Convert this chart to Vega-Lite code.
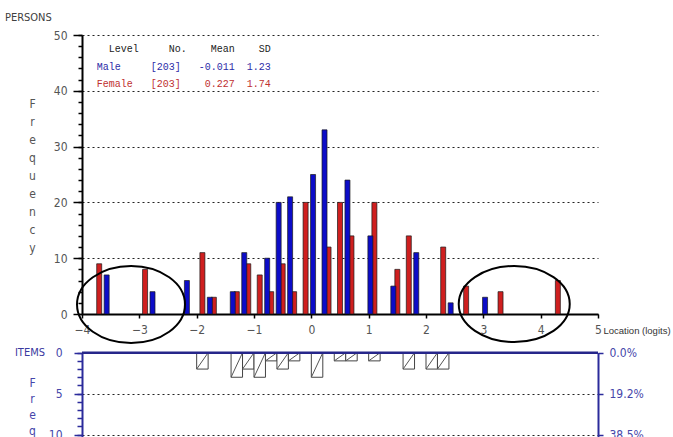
{
  "$schema": "https://vega.github.io/schema/vega-lite/v6.json",
  "width": 516,
  "height": 402,
  "autosize": "none",
  "padding": {"left": 82, "top": 35, "right": 75, "bottom": 0},
  "background": "white",
  "config": {
    "view": {"stroke": null},
    "font": "DejaVu Sans Condensed, Liberation Sans, sans-serif"
  },
  "datasets": {
    "persons": [
      {"gender": "Female", "loc": -3.7, "freq": 9},
      {"gender": "Female", "loc": -2.9, "freq": 8},
      {"gender": "Female", "loc": -1.9, "freq": 11},
      {"gender": "Female", "loc": -1.7, "freq": 3},
      {"gender": "Female", "loc": -1.3, "freq": 4},
      {"gender": "Female", "loc": -1.1, "freq": 9},
      {"gender": "Female", "loc": -0.9, "freq": 7},
      {"gender": "Female", "loc": -0.7, "freq": 4},
      {"gender": "Female", "loc": -0.5, "freq": 9},
      {"gender": "Female", "loc": -0.3, "freq": 4},
      {"gender": "Female", "loc": -0.1, "freq": 20},
      {"gender": "Female", "loc": 0.3, "freq": 12},
      {"gender": "Female", "loc": 0.5, "freq": 20},
      {"gender": "Female", "loc": 0.7, "freq": 14},
      {"gender": "Female", "loc": 1.1, "freq": 20},
      {"gender": "Female", "loc": 1.5, "freq": 8},
      {"gender": "Female", "loc": 1.7, "freq": 14},
      {"gender": "Female", "loc": 2.3, "freq": 12},
      {"gender": "Female", "loc": 2.7, "freq": 5},
      {"gender": "Female", "loc": 3.3, "freq": 4},
      {"gender": "Female", "loc": 4.3, "freq": 6},
      {"gender": "Male", "loc": -3.57, "freq": 7},
      {"gender": "Male", "loc": -2.77, "freq": 4},
      {"gender": "Male", "loc": -2.17, "freq": 6},
      {"gender": "Male", "loc": -1.77, "freq": 3},
      {"gender": "Male", "loc": -1.37, "freq": 4},
      {"gender": "Male", "loc": -1.17, "freq": 11},
      {"gender": "Male", "loc": -0.77, "freq": 10},
      {"gender": "Male", "loc": -0.57, "freq": 20},
      {"gender": "Male", "loc": -0.37, "freq": 21},
      {"gender": "Male", "loc": 0.03, "freq": 25},
      {"gender": "Male", "loc": 0.23, "freq": 33},
      {"gender": "Male", "loc": 0.63, "freq": 24},
      {"gender": "Male", "loc": 1.03, "freq": 14},
      {"gender": "Male", "loc": 1.43, "freq": 5},
      {"gender": "Male", "loc": 1.83, "freq": 11},
      {"gender": "Male", "loc": 2.43, "freq": 2},
      {"gender": "Male", "loc": 3.03, "freq": 3}
    ],
    "items": [
      {"lo": -2.0, "hi": -1.8, "n": 2},
      {"lo": -1.4, "hi": -1.2, "n": 3},
      {"lo": -1.2, "hi": -1.0, "n": 2},
      {"lo": -1.0, "hi": -0.8, "n": 3},
      {"lo": -0.8, "hi": -0.6, "n": 1},
      {"lo": -0.6, "hi": -0.4, "n": 2},
      {"lo": -0.4, "hi": -0.2, "n": 1},
      {"lo": 0.0, "hi": 0.2, "n": 3},
      {"lo": 0.4, "hi": 0.6, "n": 1},
      {"lo": 0.6, "hi": 0.8, "n": 1},
      {"lo": 1.0, "hi": 1.2, "n": 1},
      {"lo": 1.6, "hi": 1.8, "n": 2},
      {"lo": 2.0, "hi": 2.2, "n": 2},
      {"lo": 2.2, "hi": 2.4, "n": 2}
    ]
  },
  "layer": [
    {
      "layer": [
        {
          "data": {"name": "persons"},
          "mark": {"type": "bar", "size": 5, "stroke": "#1a1a1a", "strokeWidth": 0.7},
          "encoding": {
            "x": {
              "field": "loc", "type": "quantitative",
              "scale": {"domain": [-4, 5], "nice": false, "zero": false, "padding": 0},
              "axis": {
                "orient": "bottom", "offset": -123,
                "values": [-4, -3, -2, -1, 0, 1, 2, 3, 4, 5],
                "format": "d", "labelFlush": false, "labelOverlap": false,
                "grid": false,
                "domainColor": "#000", "domainWidth": 2,
                "tickColor": "#000", "tickSize": 4, "tickWidth": 1.5,
                "labelColor": "#555", "labelFontSize": 12, "labelPadding": 6,
                "title": "Location (logits)",
                "titleX": 521, "titleY": 16, "titleAlign": "left", "titleBaseline": "middle",
                "titleFont": "Liberation Sans, sans-serif",
                "titleFontWeight": "normal", "titleFontSize": 9.5, "titleColor": "#333"
              }
            },
            "y": {
              "field": "freq", "type": "quantitative",
              "scale": {"domain": [0, 50], "range": [279, 0], "nice": false, "zero": false},
              "axis": {
                "orient": "left",
                "values": [0, 10, 20, 30, 40, 50],
                "labelOverlap": false, "labelFlush": false,
                "tickSize": 9, "tickColor": "#000", "tickWidth": 1.5,
                "domainColor": "#000", "domainWidth": 2,
                "labelColor": "#555", "labelFontSize": 12, "labelPadding": 6,
                "grid": true, "gridDash": [2, 3], "gridColor": "#222", "gridWidth": 1.2,
                "title": ["F", "r", "e", "q", "u", "e", "n", "c", "y"],
                "titleAngle": 0, "titleX": -50, "titleY": 63, "titleAlign": "center", "titleBaseline": "top",
                "titleLineHeight": 18, "titleFontWeight": "normal", "titleFontSize": 12, "titleColor": "#555"
              }
            },
            "color": {
              "field": "gender", "type": "nominal",
              "scale": {"domain": ["Male", "Female"], "range": ["#0c0cc8", "#cf1f1f"]},
              "legend": null
            }
          }
        },
        {
          "data": {"values": [{"line": "Level\u00a0\u00a0\u00a0\u00a0\u00a0No.\u00a0\u00a0\u00a0\u00a0Mean\u00a0\u00a0\u00a0\u00a0SD"}]},
          "mark": {"type": "text", "font": "Liberation Mono, Courier New, monospace", "fontSize": 10, "align": "left", "baseline": "middle", "color": "#222"},
          "encoding": {"x": {"datum": -3.534, "type": "quantitative"}, "y": {"datum": 47.5, "type": "quantitative"}, "text": {"field": "line", "type": "nominal"}}
        },
        {
          "data": {"values": [{"line": "Male\u00a0\u00a0\u00a0\u00a0\u00a0[203]\u00a0\u00a0\u00a0-0.011\u00a0\u00a01.23"}]},
          "mark": {"type": "text", "font": "Liberation Mono, Courier New, monospace", "fontSize": 10, "align": "left", "baseline": "middle", "color": "#2d2da8"},
          "encoding": {"x": {"datum": -3.743, "type": "quantitative"}, "y": {"datum": 44.2, "type": "quantitative"}, "text": {"field": "line", "type": "nominal"}}
        },
        {
          "data": {"values": [{"line": "Female\u00a0\u00a0\u00a0[203]\u00a0\u00a0\u00a0\u00a00.227\u00a0\u00a01.74"}]},
          "mark": {"type": "text", "font": "Liberation Mono, Courier New, monospace", "fontSize": 10, "align": "left", "baseline": "middle", "color": "#c03030"},
          "encoding": {"x": {"datum": -3.743, "type": "quantitative"}, "y": {"datum": 41.3, "type": "quantitative"}, "text": {"field": "line", "type": "nominal"}}
        },
        {
          "data": {"values": [{"label": "PERSONS"}]},
          "mark": {"type": "text", "fontSize": 11, "align": "left", "baseline": "middle", "color": "#404040"},
          "encoding": {"x": {"datum": -5.344, "type": "quantitative"}, "y": {"datum": 53.05, "type": "quantitative"}, "text": {"field": "label", "type": "nominal"}}
        },
        {
          "data": {"values": [{"k": 1}]},
          "mark": {"type": "point", "shape": "M-1,0A1,0.713,0,1,0,1,0A1,0.713,0,1,0,-1,0Z", "size": 11664, "filled": false, "stroke": "#000", "strokeWidth": 2, "opacity": 1, "clip": false},
          "encoding": {"x": {"datum": -3.145, "type": "quantitative"}, "y": {"datum": 1.7, "type": "quantitative"}}
        },
        {
          "data": {"values": [{"k": 1}]},
          "mark": {"type": "point", "shape": "M-1,0A1,0.685,0,1,0,1,0A1,0.685,0,1,0,-1,0Z", "size": 12321, "filled": false, "stroke": "#000", "strokeWidth": 2, "opacity": 1, "clip": false},
          "encoding": {"x": {"datum": 3.539, "type": "quantitative"}, "y": {"datum": 1.79, "type": "quantitative"}}
        }
      ]
    },
    {
      "data": {"values": [{"k": 1}]},
      "mark": {"type": "rule", "strokeOpacity": 0},
      "encoding": {
        "y": {
          "datum": 0, "type": "quantitative",
          "scale": {"domain": [0, 50], "range": [279, 0], "nice": false, "zero": false},
          "axis": {
            "orient": "left",
            "values": [0, 2, 4, 6, 8, 10, 12, 14, 16, 18, 20, 22, 24, 26, 28, 30, 32, 34, 36, 38, 40, 42, 44, 46, 48, 50],
            "labels": false, "domain": false, "grid": false,
            "tickSize": 4, "tickColor": "#000", "tickWidth": 1.5,
            "title": null
          }
        }
      }
    },
    {
      "layer": [
        {
          "data": {"name": "items"},
          "mark": {"type": "rect", "fill": "white", "stroke": "#444", "strokeWidth": 1},
          "encoding": {
            "x": {"field": "lo", "type": "quantitative"},
            "x2": {"field": "hi"},
            "y": {
              "field": "n", "type": "quantitative",
              "scale": {"domain": [0, 10.3], "range": [317.7, 402], "nice": false, "zero": false},
              "axis": {
                "orient": "left",
                "values": [0, 5, 10],
                "labelOverlap": false, "labelFlush": false,
                "tickSize": 8, "tickColor": "#2b2b9b", "tickWidth": 1.5,
                "domainColor": "#2b2b9b", "domainWidth": 2,
                "labelColor": "#4646aa", "labelFontSize": 12, "labelPadding": 12,
                "grid": true, "gridDash": [2, 3], "gridColor": "#222", "gridWidth": 1.2,
                "title": ["F", "r", "e", "q", "u", "e", "n", "c", "y"],
                "titleAngle": 0, "titleX": -50, "titleY": 342, "titleAlign": "center", "titleBaseline": "top",
                "titleLineHeight": 16, "titleFontWeight": "normal", "titleFontSize": 12, "titleColor": "#4646aa"
              }
            },
            "y2": {"datum": 0}
          }
        },
        {
          "data": {"name": "items"},
          "mark": {"type": "rule", "stroke": "#555", "strokeWidth": 1},
          "encoding": {
            "x": {"field": "lo", "type": "quantitative"},
            "x2": {"field": "hi"},
            "y": {"field": "n", "type": "quantitative"},
            "y2": {"datum": 0}
          }
        },
        {
          "data": {"values": [{"k": 1}]},
          "mark": {"type": "rule", "stroke": "#26268a", "strokeWidth": 2.5},
          "encoding": {"y": {"datum": 0, "type": "quantitative"}}
        },
        {
          "data": {"values": [{"label": "ITEMS"}]},
          "mark": {"type": "text", "fontSize": 11, "align": "left", "baseline": "middle", "color": "#3a3aa0"},
          "encoding": {"x": {"datum": -5.17, "type": "quantitative"}, "y": {"datum": 0, "type": "quantitative"}, "text": {"field": "label", "type": "nominal"}}
        }
      ]
    },
    {
      "data": {"values": [{"k": 1}]},
      "mark": {"type": "rule", "strokeOpacity": 0},
      "encoding": {
        "y": {
          "datum": 0, "type": "quantitative",
          "scale": {"domain": [0, 10.3], "range": [317.7, 402], "nice": false, "zero": false},
          "axis": {
            "orient": "left",
            "values": [0, 1, 2, 3, 4, 5, 6, 7, 8, 9, 10],
            "labels": false, "domain": false, "grid": false,
            "tickSize": 5, "tickColor": "#2b2b9b", "tickWidth": 1.5,
            "title": null
          }
        }
      }
    },
    {
      "data": {"values": [{"k": 1}]},
      "mark": {"type": "rule", "strokeOpacity": 0},
      "encoding": {
        "y": {
          "datum": 0, "type": "quantitative",
          "scale": {"domain": [0, 10.3], "range": [317.7, 402], "nice": false, "zero": false},
          "axis": {
            "orient": "right",
            "values": [0, 5, 10],
            "labelOverlap": false, "labelFlush": false,
            "labelExpr": "format(datum.value / 26 * 100, '.1f') + '%'",
            "tickSize": 5, "tickColor": "#2b2b9b", "tickWidth": 1.5,
            "domainColor": "#2b2b9b", "domainWidth": 2,
            "labelColor": "#4646aa", "labelFontSize": 12, "labelPadding": 6,
            "grid": false, "title": null
          }
        }
      }
    }
  ],
  "resolve": {"scale": {"y": "independent"}}
}
